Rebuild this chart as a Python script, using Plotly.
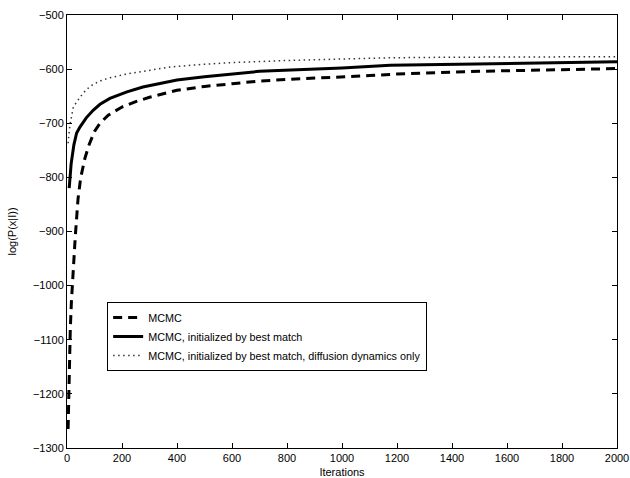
import plotly.graph_objects as go

# MCMC (dashed)
mcmc_x = [4, 8, 12, 16, 20, 30, 40, 50, 65, 80, 100, 120, 150, 200, 250, 300, 400, 500, 600, 700, 800, 900, 1000, 1100, 1200, 1300, 1400, 1500, 1600, 1700, 1800, 1900, 2000]
mcmc_y = [-1265, -1160, -1080, -1030, -990, -910, -840, -800, -765, -740, -715, -700, -685, -670, -660, -652, -639, -632, -627, -622, -619, -617, -615, -612, -609, -607, -606, -604, -603, -602, -601, -600, -599]

# MCMC, initialized by best match (solid)
best_x = [8, 15, 25, 35, 47, 70, 95, 120, 156, 218, 276, 338, 400, 500, 618, 700, 860, 1000, 1175, 1400, 1600, 1800, 2000]
best_y = [-820, -775, -740, -718, -707, -690, -676, -665, -654, -642, -633, -626, -620, -614, -608, -604, -600.5, -598, -593, -591, -589, -588, -586.5]

# MCMC, initialized by best match, diffusion dynamics only (dotted)
diff_x = [4, 10, 23, 47, 70, 95, 125, 156, 218, 338, 375, 500, 600, 800, 1000, 1175, 1400, 1700, 2000]
diff_y = [-737, -705, -670, -652, -638, -628, -621, -616, -609, -599, -596, -591, -588, -584, -581, -579, -578, -577.5, -577]

names = ["MCMC", "MCMC, initialized by best match", "MCMC, initialized by best match, diffusion dynamics only"]

x_ticks = [0, 200, 400, 600, 800, 1000, 1200, 1400, 1600, 1800, 2000]
y_ticks = [-1300, -1200, -1100, -1000, -900, -800, -700, -600, -500]

fig = go.Figure()
fig.add_trace(go.Scatter(x=mcmc_x, y=mcmc_y, mode="lines", name=names[0],
                         line=dict(color="black", width=3, dash="9px,6px")))
fig.add_trace(go.Scatter(x=best_x, y=best_y, mode="lines", name=names[1],
                         line=dict(color="black", width=3)))
fig.add_trace(go.Scatter(x=diff_x, y=diff_y, mode="lines", name=names[2],
                         line=dict(color="#333333", width=1.5, dash="1.5px,3.5px")))

axis_common = dict(showgrid=False, zeroline=False, showline=True, linecolor="black",
                   linewidth=1, mirror="ticks", ticks="inside", ticklen=5,
                   tickcolor="black", tickfont=dict(family="Liberation Sans, Arial", size=11, color="black"))

fig.update_layout(
    width=630, height=478,
    margin=dict(l=67, r=13, t=15, b=30),
    paper_bgcolor="white", plot_bgcolor="white",
    font=dict(family="Liberation Sans, Arial", size=11, color="black"),
    xaxis=dict(range=[0, 2000], tickvals=x_ticks, automargin=False,
               title=dict(text="Iterations", font=dict(size=11), standoff=14), **axis_common),
    yaxis=dict(range=[-1300, -500], tickvals=y_ticks, automargin=False,
               title=dict(text="log(P(x|I))", font=dict(size=11), standoff=14), **axis_common),
    legend=dict(x=0.073, y=0.337, xanchor="left", yanchor="top",
                bordercolor="black", borderwidth=1, bgcolor="white",
                font=dict(size=10.8), tracegroupgap=0, itemwidth=30),
    showlegend=True,
)

fig.write_html("out.html", config={"displayModeBar": False},
               post_script="document.body.style.margin='0';")
